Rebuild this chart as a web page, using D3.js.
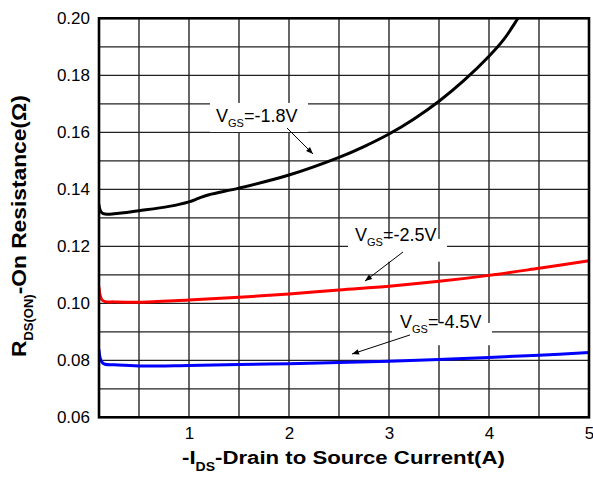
<!DOCTYPE html>
<html><head><meta charset="utf-8">
<script src="https://cdn.jsdelivr.net/npm/d3@7"></script>
<style>
body{margin:0;background:#fff;}
svg{display:block;font-family:"Liberation Sans",Arial,sans-serif;}
</style></head>
<body>
<svg id="c" width="593" height="481"></svg>
<script>
// ---- data ----
const xTicks = [1, 2, 3, 4, 5];
const yTicks = [0.06, 0.08, 0.10, 0.12, 0.14, 0.16, 0.18, 0.20];
const xGrid = [0.5, 1, 1.5, 2, 2.5, 3, 3.5, 4, 4.5];
const yGrid = [0.07, 0.08, 0.09, 0.10, 0.11, 0.12, 0.13, 0.14, 0.15, 0.16, 0.17, 0.18, 0.19];

const vgs18_x = [0.1, 0.11, 0.13, 0.16, 0.25, 0.5, 0.8, 1.0, 1.1, 1.2, 1.5, 2.0, 2.5, 2.75, 3.0, 3.25, 3.5, 3.75, 4.0, 4.15, 4.29, 4.4];
const vgs18_y = [0.1345, 0.1328, 0.1317, 0.1313, 0.1314, 0.1325, 0.1340, 0.1356, 0.1369, 0.1381, 0.1404, 0.1450, 0.1512, 0.1550, 0.1594, 0.1647, 0.1709, 0.1782, 0.1867, 0.1927, 0.2000, 0.2060];

const vgs25_x = [0.1, 0.11, 0.13, 0.16, 0.25, 0.5, 1.0, 1.5, 2.0, 2.5, 3.0, 3.5, 4.0, 4.5, 5.0];
const vgs25_y = [0.1055, 0.1030, 0.1012, 0.1006, 0.1005, 0.1004, 0.1012, 0.1021, 0.1033, 0.1047, 0.1060, 0.1077, 0.1098, 0.1123, 0.1149];

const vgs45_x = [0.1, 0.11, 0.13, 0.16, 0.25, 0.5, 1.0, 1.5, 2.0, 2.5, 3.0, 3.5, 4.0, 4.5, 5.0];
const vgs45_y = [0.0836, 0.0810, 0.0793, 0.0786, 0.0784, 0.0780, 0.0782, 0.0785, 0.0788, 0.0792, 0.0797, 0.0803, 0.0810, 0.0818, 0.0827];

const seriesNames = ["-1.8V", "-2.5V", "-4.5V"];
const seriesColors = ["#000000", "#ff0000", "#0000ff"];

// annotation anchors in data units: text start, box, arrow tail, arrow head
const annText = [[1.27, 0.1636], [2.66, 0.1219], [3.11, 0.0913]];
const annBox = [[1.21, 2.19, 0.1703, 0.1601], [2.59, 3.58, 0.1226, 0.1146], [3.03, 4.03, 0.0931, 0.0853]];
const annArrow = [[1.98, 0.1615, 2.24, 0.1524], [3.14, 0.1180, 2.76, 0.1078], [3.21, 0.0889, 2.63, 0.0822]];

// ---- chart ----
const svg = d3.select("#c");
const x = d3.scaleLinear().domain([0.1, 5]).range([99, 589]);
const y = d3.scaleLinear().domain([0.06, 0.20]).range([417.3, 18.3]);

const defs = svg.append("defs");
defs.append("clipPath").attr("id", "clip").append("rect")
  .attr("x", x(0.1)).attr("y", y(0.20)).attr("width", x(5) - x(0.1)).attr("height", y(0.06) - y(0.20));
defs.append("marker").attr("id", "arr").attr("viewBox", "0 0 10 10").attr("refX", 10).attr("refY", 5)
  .attr("markerWidth", 9).attr("markerHeight", 7).attr("markerUnits", "userSpaceOnUse").attr("orient", "auto")
  .append("path").attr("d", "M0,1 L10,5 L0,9 Z").attr("fill", "#000");

// grid
svg.append("g").selectAll("line").data(xGrid).join("line")
  .attr("x1", d => x(d)).attr("x2", d => x(d)).attr("y1", y(0.06)).attr("y2", y(0.20))
  .attr("stroke", "#000").attr("stroke-width", 1.2);
svg.append("g").selectAll("line").data(yGrid).join("line")
  .attr("x1", x(0.1)).attr("x2", x(5)).attr("y1", d => y(d)).attr("y2", d => y(d))
  .attr("stroke", "#222").attr("stroke-width", 1.2);

// axes labels via d3 axes
const xAxis = d3.axisBottom(x).tickValues(xTicks).tickFormat(d3.format("d")).tickSize(0).tickPadding(10);
const gx = svg.append("g").attr("transform", `translate(0,${y(0.06)})`).call(xAxis);
gx.select(".domain").remove();
gx.selectAll("text").attr("font-size", 17).attr("font-family", "Liberation Sans,Arial,sans-serif").attr("fill", "#000");

const yAxis = d3.axisLeft(y).tickValues(yTicks).tickFormat(d3.format(".2f")).tickSize(0).tickPadding(9);
const gy = svg.append("g").attr("transform", `translate(${x(0.1)},0)`).call(yAxis);
gy.select(".domain").remove();
gy.selectAll("text").attr("font-size", 17).attr("font-family", "Liberation Sans,Arial,sans-serif").attr("fill", "#000");

// annotation boxes (white knockouts)
svg.append("g").selectAll("rect").data(annBox).join("rect")
  .attr("x", d => x(d[0])).attr("y", d => y(d[2])).attr("width", d => x(d[1]) - x(d[0])).attr("height", d => y(d[3]) - y(d[2]))
  .attr("fill", "#fff");

// curves
const seriesX = [vgs18_x, vgs25_x, vgs45_x];
const seriesY = [vgs18_y, vgs25_y, vgs45_y];
const line = d3.line().x(d => x(d[0])).y(d => y(d[1])).curve(d3.curveCatmullRom.alpha(0.5));
const cg = svg.append("g").attr("clip-path", "url(#clip)");
seriesX.forEach((xs, i) => {
  const pts = xs.map((v, j) => [v, seriesY[i][j]]);
  cg.append("path").datum(pts).attr("d", line).attr("fill", "none")
    .attr("stroke", seriesColors[i]).attr("stroke-width", 3).attr("stroke-linejoin", "round").attr("stroke-linecap", "round");
});

// border
svg.append("rect").attr("x", x(0.1)).attr("y", y(0.20)).attr("width", x(5) - x(0.1)).attr("height", y(0.06) - y(0.20))
  .attr("fill", "none").attr("stroke", "#000").attr("stroke-width", 2.6);

// annotation text + arrows
seriesNames.forEach((nm, i) => {
  const t = svg.append("text").attr("x", x(annText[i][0])).attr("y", y(annText[i][1])).attr("font-size", 18).attr("fill", "#000");
  t.append("tspan").text("V");
  t.append("tspan").text("GS").attr("font-size", 11).attr("dy", 5);
  t.append("tspan").text("=" + nm).attr("dy", -5);
  const a = annArrow[i];
  svg.append("line").attr("x1", x(a[0])).attr("y1", y(a[1])).attr("x2", x(a[2])).attr("y2", y(a[3]))
    .attr("stroke", "#000").attr("stroke-width", 1).attr("marker-end", "url(#arr)");
});

// axis titles (stretched horizontally to match reference extent)
const xtg = svg.append("g");
const xt = xtg.append("text").attr("x", 0).attr("y", 0).attr("font-size", 19).attr("font-weight", "bold").attr("fill", "#000");
xt.append("tspan").text("-I");
xt.append("tspan").text("DS").attr("font-size", 12).attr("dy", 7);
xt.append("tspan").text("-Drain to Source Current(A)").attr("dy", -7);
const xw = xt.node().getBBox().width;
xtg.attr("transform", `translate(182,464) scale(${323 / xw},1)`);

const ytg = svg.append("g");
const yt = ytg.append("text").attr("x", 0).attr("y", 0)
  .attr("font-size", 21).attr("font-weight", "bold").attr("fill", "#000");
yt.append("tspan").text("R");
yt.append("tspan").text("DS(ON)").attr("font-size", 12).attr("dy", 7);
yt.append("tspan").text("-On Resistance(Ω)").attr("dy", -7);
const yw = yt.node().getBBox().width;
ytg.attr("transform", `translate(26,357) rotate(-90) scale(${262 / yw},1)`);
</script>
</body></html>
